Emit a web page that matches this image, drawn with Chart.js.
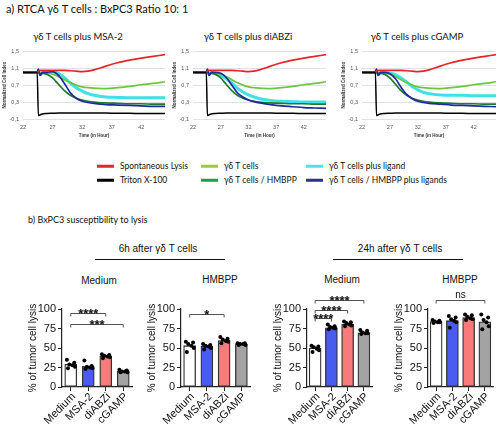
<!DOCTYPE html>
<html>
<head>
<meta charset="utf-8">
<script src="https://cdn.jsdelivr.net/npm/chart.js@4.4.1/dist/chart.umd.min.js"></script>
<style>
  body { margin: 0; width: 500px; height: 425px; position: relative; overflow: hidden; background: #fff; font-family: Lato, "Open Sans", sans-serif; color: #111; }
  .t { position: absolute; white-space: nowrap; line-height: 1; }
  .c { transform: translate(-50%, -50%); }
  .l { transform: translateY(-50%); }
  canvas { position: absolute; }
  .sw { display: inline-block; width: 17px; height: 3px; vertical-align: middle; margin-right: 6px; }
  .rule { position: absolute; height: 1px; background: #111; }
</style>
</head>
<body>

<div class="t l" style="left:6px;top:8px;font-size:11px">a) RTCA γδ T cells : BxPC3 Ratio 10: 1</div>
<div class="t c" style="left:78px;top:37px;font-size:9.5px">γδ T cells plus MSA-2</div>
<div class="t c" style="left:248px;top:37px;font-size:9.5px">γδ T cells plus diABZi</div>
<div class="t c" style="left:417px;top:37px;font-size:9.5px">γδ T cells plus cGAMP</div>

<canvas id="line1" width="166" height="97" style="left:1px;top:44px"></canvas>
<canvas id="line2" width="157" height="97" style="left:171px;top:44px"></canvas>
<canvas id="line3" width="158" height="97" style="left:340px;top:44px"></canvas>

<div class="t l" style="left:97px;top:166px;font-size:8.5px"><span class="sw" style="background:#E3262B"></span>Spontaneous Lysis</div>
<div class="t l" style="left:97px;top:180px;font-size:8.5px"><span class="sw" style="background:#000"></span>Triton X-100</div>
<div class="t l" style="left:201px;top:166px;font-size:8.5px"><span class="sw" style="background:#9BCB3C"></span>γδ T cells</div>
<div class="t l" style="left:201px;top:180px;font-size:8.5px"><span class="sw" style="background:#1F9E4A"></span>γδ T cells / HMBPP</div>
<div class="t l" style="left:306px;top:166px;font-size:8.5px"><span class="sw" style="background:#4FE3E8"></span>γδ T cells plus ligand</div>
<div class="t l" style="left:306px;top:180px;font-size:8.5px"><span class="sw" style="background:#2E3192"></span>γδ T cells / HMBPP plus ligands</div>

<div class="t l" style="left:28px;top:219px;font-size:9px">b) BxPC3 susceptibility to lysis</div>
<div class="t c" style="left:158px;top:249px;font-size:10px;font-family:'Liberation Sans',Arial,sans-serif">6h after γδ T cells</div>
<div class="t c" style="left:400px;top:249px;font-size:10px;font-family:'Liberation Sans',Arial,sans-serif">24h after γδ T cells</div>
<div class="rule" style="left:95px;top:259px;width:130px"></div>
<div class="rule" style="left:333px;top:259px;width:130px"></div>
<div class="t c" style="left:99px;top:281px;font-size:10px;font-family:'Liberation Sans',Arial,sans-serif">Medium</div>
<div class="t c" style="left:220px;top:280px;font-size:10px;font-family:'Liberation Sans',Arial,sans-serif">HMBPP</div>
<div class="t c" style="left:342px;top:280px;font-size:10px;font-family:'Liberation Sans',Arial,sans-serif">Medium</div>
<div class="t c" style="left:460px;top:280px;font-size:10px;font-family:'Liberation Sans',Arial,sans-serif">HMBPP</div>

<canvas id="bar1" width="109" height="141" style="left:27px;top:283px"></canvas>
<canvas id="bar2" width="108" height="141" style="left:146px;top:283px"></canvas>
<canvas id="bar3" width="104" height="141" style="left:272px;top:283px"></canvas>
<canvas id="bar4" width="104" height="141" style="left:393px;top:283px"></canvas>

<script>
// ---- RTCA curves (normalized cell index over time) ----
const hours = [22, 23, 24.4, 24.6, 24.9, 25.3, 26, 27, 28, 29, 30, 31, 32, 33, 34, 36, 38, 40, 42, 44, 46];
const spontaneous = [1, 1, 1, 1.03, 1.05, 1.05, 1.05, 1.05, 1.05, 1.05, 1.04, 1.03, 1.02, 1.03, 1.06, 1.15, 1.23, 1.29, 1.34, 1.38, 1.42];
const triton = [1, 1, 1, -0.02, 0.0, 0.02, 0.03, 0.035, 0.04, 0.04, 0.04, 0.04, 0.04, 0.04, 0.04, 0.04, 0.035, 0.035, 0.03, 0.03, 0.03];
const gdT = [1, 1, 1, 1.04, 0.97, 1.0, 0.99, 0.96, 0.9, 0.83, 0.76, 0.7, 0.66, 0.64, 0.63, 0.62, 0.64, 0.67, 0.71, 0.74, 0.78];
const gdTHmbpp = [1, 1, 1, 1.03, 0.94, 0.98, 0.96, 0.87, 0.72, 0.57, 0.46, 0.39, 0.35, 0.32, 0.3, 0.28, 0.27, 0.26, 0.26, 0.25, 0.25];

const ligandMSA2 = [1, 1, 1, 1.05, 0.95, 1.0, 1.0, 1.02, 0.98, 0.88, 0.75, 0.64, 0.56, 0.5, 0.46, 0.42, 0.41, 0.4, 0.4, 0.4, 0.4];
const hmbppLigandMSA2 = [1, 1, 1, 1.08, 0.93, 1.0, 1.0, 1.02, 0.93, 0.74, 0.52, 0.39, 0.32, 0.29, 0.27, 0.24, 0.23, 0.22, 0.21, 0.2, 0.2];
const ligandDiABZi = [1, 1, 1, 1.05, 0.95, 1.0, 0.97, 0.93, 0.85, 0.75, 0.63, 0.54, 0.47, 0.42, 0.38, 0.34, 0.32, 0.31, 0.3, 0.3, 0.3];
const hmbppLigandDiABZi = [1, 1, 1, 1.08, 0.93, 1.0, 1.0, 0.98, 0.88, 0.7, 0.52, 0.42, 0.35, 0.31, 0.28, 0.24, 0.21, 0.19, 0.17, 0.16, 0.15];
const ligandCGAMP = [1, 1, 1, 1.05, 0.95, 1.0, 1.0, 0.98, 0.95, 0.87, 0.77, 0.67, 0.59, 0.53, 0.5, 0.47, 0.46, 0.46, 0.45, 0.45, 0.45];
const hmbppLigandCGAMP = [1, 1, 1, 1.08, 0.93, 1.0, 1.0, 0.97, 0.85, 0.65, 0.48, 0.38, 0.32, 0.29, 0.27, 0.25, 0.23, 0.22, 0.21, 0.2, 0.19];

const hourTicks = [22, 27, 32, 37, 42];
const indexTicks = [-0.1, 0.1, 0.3, 0.5, 0.7, 0.9, 1.1, 1.3, 1.5];

// ---- lysis bar charts ----
const groups = ['Medium', 'MSA-2', 'diABZi', 'cGAMP'];
const percentTicks = [0, 25, 50, 75, 100];

const mean6hMedium = [29, 26.5, 39.5, 20];
const dots6hMedium = [[35, 31, 29, 28, 26, 24], [34, 27, 26, 25, 24, 23], [42, 41, 40, 39, 38, 37], [22, 21, 20, 20, 19, 19]];
const mean6hHmbpp = [53, 52, 59.5, 55];
const dots6hHmbpp = [[58, 57, 55, 53, 50, 45], [55, 54, 53, 52, 50, 48], [64, 62, 61, 59, 58, 56], [56, 56, 55, 55, 54, 54]];
const mean24hMedium = [50, 76, 80.5, 69.5];
const dots24hMedium = [[53, 52, 51, 49, 47, 45], [80, 78, 77, 76, 75, 74], [84, 83, 82, 80, 79, 78], [73, 72, 70, 69, 69, 68]];
const mean24hHmbpp = [84, 85, 89, 83.5];
const dots24hHmbpp = [[86, 85, 84, 83, 83, 82], [91, 89, 87, 85, 83, 76], [93, 92, 90, 88, 87, 86], [93, 89, 86, 83, 78, 74]];

const sig6hMedium = [{ from: 0, to: 2, y: 95, label: '****' }, { from: 0, to: 3, y: 81, label: '***' }];
const sig6hHmbpp = [{ from: 0, to: 2, y: 93, label: '*' }];
const sig24hMedium = [{ from: 0, to: 1, y: 88, label: '****' }, { from: 0, to: 2, y: 99, label: '****' }, { from: 0, to: 3, y: 111, label: '****' }];
const sig24hHmbpp = [{ from: 0, to: 3, y: 111, label: 'ns' }];

Chart.defaults.font.family = "'Liberation Sans', Arial, sans-serif";
Chart.defaults.color = '#222';

const comma = v => (Math.round(v * 10) / 10).toFixed(1).replace('.', ',');

function series(label, values, color, width) {
  return {
    label: label,
    data: hours.map((h, i) => ({ x: h, y: values[i] })),
    borderColor: color,
    borderWidth: width,
    pointRadius: 0,
    cubicInterpolationMode: 'monotone',
    fill: false
  };
}

function rtcaChart(id, ligand, hmbppLigand) {
  var ctx = document.getElementById(id).getContext('2d');
  new Chart(ctx, {
    type: 'line',
    data: {
      datasets: [
        series('Triton X-100', triton, '#000000', 1.5),
        series('Spontaneous Lysis', spontaneous, '#E3262B', 1.7),
        series('γδ T cells / HMBPP plus ligands', hmbppLigand, '#1F2A9C', 1.7),
        series('γδ T cells / HMBPP', gdTHmbpp, '#1E7A32', 1.7),
        series('γδ T cells', gdT, '#6CC644', 1.7),
        series('γδ T cells plus ligand', ligand, '#3FE0E6', 3)
      ]
    },
    options: {
      responsive: false,
      animation: false,
      layout: { padding: { top: 4, right: 2, left: 0, bottom: 0 } },
      plugins: { legend: { display: false }, tooltip: { enabled: false } },
      scales: {
        x: {
          type: 'linear', min: 22, max: 46,
          afterBuildTicks: ax => { ax.ticks = hourTicks.map(v => ({ value: v })); },
          afterFit: ax => { ax.height = 22; },
          grid: { display: false, drawTicks: false },
          border: { display: false },
          ticks: { font: { size: 5.5 }, color: '#555', padding: 5, maxRotation: 0 },
          title: { display: true, text: 'Time (in Hour)', font: { size: 4.5, weight: 'bold' }, color: '#333', padding: { top: 0, bottom: 3 } }
        },
        y: {
          min: -0.1, max: 1.5,
          afterBuildTicks: ax => { ax.ticks = indexTicks.map(v => ({ value: v })); },
          afterFit: ax => { ax.width = 22; },
          grid: { color: '#D9D9D9', lineWidth: 0.8, drawTicks: false },
          border: { display: false },
          ticks: { font: { size: 5.5 }, color: '#555', padding: 4, callback: v => comma(v) },
          title: { display: true, text: 'Normalized Cell Index', font: { size: 4.5, weight: 'bold' }, color: '#333', padding: 1 }
        }
      }
    }
  });
}

rtcaChart('line1', ligandMSA2, hmbppLigandMSA2);
rtcaChart('line2', ligandDiABZi, hmbppLigandDiABZi);
rtcaChart('line3', ligandCGAMP, hmbppLigandCGAMP);

// significance brackets and slanted group names, placed with the chart's own scales
const annotPlugin = {
  id: 'annot',
  afterDraw(chart, args, opts) {
    const c = chart.ctx, xs = chart.scales.x, ys = chart.scales.y;
    (opts.items || []).forEach(b => {
      const x1 = xs.getPixelForValue(b.from), x2 = xs.getPixelForValue(b.to);
      const y = Math.round(ys.getPixelForValue(b.y)) + 0.5;
      c.save();
      c.strokeStyle = '#555';
      c.lineWidth = 1;
      c.beginPath();
      c.moveTo(x1, y + 3); c.lineTo(x1, y); c.lineTo(x2, y); c.lineTo(x2, y + 3);
      c.stroke();
      c.fillStyle = '#111';
      c.textAlign = 'center';
      c.textBaseline = 'alphabetic';
      if (b.label === 'ns') {
        c.font = "10px 'Liberation Sans', Arial, sans-serif";
        c.fillText(b.label, (x1 + x2) / 2, y - 3);
      } else {
        c.font = "bold 13px 'Liberation Sans', Arial, sans-serif";
        c.fillText(b.label, (x1 + x2) / 2, y + 4.5);
      }
      c.restore();
    });
    groups.forEach((g, i) => {
      c.save();
      c.translate(xs.getPixelForValue(i) + 3, xs.top + 8);
      c.rotate(-Math.PI / 4);
      c.font = "11px 'Liberation Sans', Arial, sans-serif";
      c.fillStyle = '#111';
      c.textAlign = 'right';
      c.textBaseline = 'middle';
      c.fillText(g, 0, 0);
      c.restore();
    });
  }
};

const barColors = ['#FFFFFF', '#4A5CF0', '#F87A7A', '#A3A3A3'];
const dotSpread = [-0.22, 0.2, -0.08, 0.1, 0.24, -0.16];

function lysisChart(id, means, dots, brackets) {
  var ctx = document.getElementById(id).getContext('2d');
  const points = [];
  dots.forEach((list, i) => list.forEach((v, j) => points.push({ x: i + dotSpread[j], y: v })));
  new Chart(ctx, {
    type: 'bar',
    data: {
      datasets: [
        {
          type: 'scatter',
          data: points,
          pointRadius: 2,
          pointBackgroundColor: '#000',
          pointBorderWidth: 0
        },
        {
          type: 'bar',
          data: means.map((m, i) => ({ x: i, y: m })),
          backgroundColor: barColors,
          borderColor: '#333',
          borderWidth: 1.3,
          borderSkipped: false,
          barThickness: 12
        }
      ]
    },
    options: {
      responsive: false,
      animation: false,
      layout: { padding: { top: 26, right: 0, left: 0, bottom: 0 } },
      plugins: { legend: { display: false }, tooltip: { enabled: false }, annot: { items: brackets } },
      scales: {
        x: {
          type: 'linear', min: -0.5, max: 3.5, offset: false,
          afterBuildTicks: ax => { ax.ticks = groups.map((g, i) => ({ value: i })); },
          afterFit: ax => { ax.height = 37; },
          grid: { drawOnChartArea: false, tickLength: 4, color: '#222', offset: false },
          border: { color: '#222', width: 1.2 },
          ticks: { display: false }
        },
        y: {
          min: 0, max: 100,
          afterBuildTicks: ax => { ax.ticks = percentTicks.map(v => ({ value: v })); },
          afterFit: ax => { ax.width = 35; },
          grid: { drawOnChartArea: false, tickLength: 4, color: '#222' },
          border: { color: '#222', width: 1.2 },
          ticks: { font: { size: 11 }, color: '#111', padding: 2 },
          title: { display: true, text: '% of tumor cell lysis', font: { size: 10 }, color: '#111', padding: 0 }
        }
      }
    },
    plugins: [annotPlugin]
  });
}

lysisChart('bar1', mean6hMedium, dots6hMedium, sig6hMedium);
lysisChart('bar2', mean6hHmbpp, dots6hHmbpp, sig6hHmbpp);
lysisChart('bar3', mean24hMedium, dots24hMedium, sig24hMedium);
lysisChart('bar4', mean24hHmbpp, dots24hHmbpp, sig24hHmbpp);
</script>
</body>
</html>
